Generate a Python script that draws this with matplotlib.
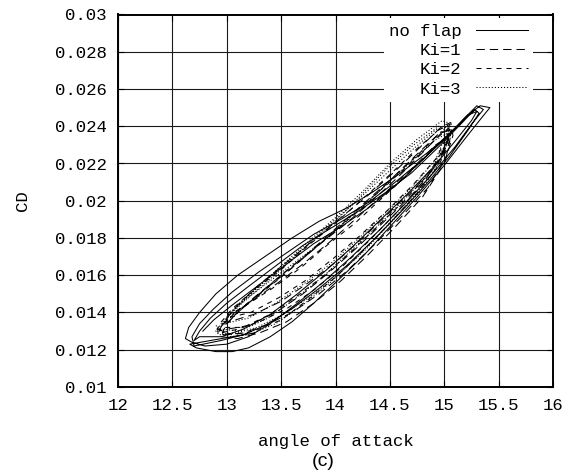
import matplotlib
matplotlib.use("Agg")
import matplotlib.pyplot as plt
from matplotlib.ticker import FixedLocator, FixedFormatter

# ---- data: CD vs angle of attack over several pitching cycles ----
# no flap (four cycles)
noflap_alpha = [
    [13.25, 13.05, 12.66,
     12.72, 12.90, 13.05, 13.20, 13.40, 13.60, 13.80, 14.00, 14.25, 14.50, 14.75, 15.00, 15.20, 15.35, 15.42,
     15.33, 15.22, 15.05, 14.85, 14.60, 14.35, 14.10, 13.85, 13.60, 13.35, 13.10, 12.90, 12.75, 12.65, 12.62],
    [12.68, 12.80, 13.00, 13.20, 13.40, 13.65, 13.90, 14.15, 14.40, 14.65, 14.90, 15.10, 15.25, 15.36,
     15.30, 15.18, 15.00, 14.80, 14.55, 14.30, 14.05, 13.80, 13.55, 13.30, 13.05, 12.88, 12.75, 12.68],
    [12.70, 12.95, 13.15, 13.35, 13.60, 13.85, 14.10, 14.35, 14.60, 14.85, 15.05, 15.22, 15.32,
     15.28, 15.15, 14.95, 14.70, 14.45, 14.20, 13.95, 13.70, 13.45, 13.20, 13.00, 12.85, 12.75, 12.70],
    [12.75, 12.95, 13.15, 13.40, 13.65, 13.90, 14.15, 14.40, 14.65, 14.90, 15.10, 15.25, 15.30,
     15.22, 15.05, 14.80, 14.55, 14.30, 14.05, 13.80, 13.55, 13.30, 13.05, 12.88, 12.78],
]
noflap_cd = [
    [0.0129, 0.0127, 0.0123,
     0.0121, 0.0119, 0.0119, 0.0121, 0.0127, 0.0135, 0.0145, 0.0156, 0.0170, 0.0186, 0.0202, 0.0219, 0.0234, 0.0245, 0.0250,
     0.0251, 0.0246, 0.0236, 0.0226, 0.0215, 0.0205, 0.0196, 0.0189, 0.0180, 0.0170, 0.0160, 0.0150, 0.0140, 0.0132, 0.0126],
    [0.0124, 0.0122, 0.0123, 0.0127, 0.0134, 0.0145, 0.0157, 0.0170, 0.0184, 0.0199, 0.0215, 0.0229, 0.0241, 0.0249,
     0.0251, 0.0244, 0.0233, 0.0222, 0.0210, 0.0199, 0.0190, 0.0182, 0.0172, 0.0162, 0.0151, 0.0142, 0.0134, 0.0127],
    [0.0122, 0.0125, 0.0128, 0.0133, 0.0142, 0.0153, 0.0165, 0.0179, 0.0194, 0.0210, 0.0224, 0.0238, 0.0247,
     0.0249, 0.0241, 0.0229, 0.0215, 0.0204, 0.0194, 0.0185, 0.0176, 0.0165, 0.0154, 0.0145, 0.0137, 0.0130, 0.0125],
    [0.0127, 0.0127, 0.0131, 0.0139, 0.0150, 0.0162, 0.0175, 0.0189, 0.0203, 0.0218, 0.0232, 0.0243, 0.0248,
     0.0246, 0.0236, 0.0222, 0.0208, 0.0196, 0.0186, 0.0177, 0.0166, 0.0155, 0.0144, 0.0136, 0.0130],
]

# Ki = 1
ki1_alpha = [
    [12.95, 13.10, 13.30, 13.55, 13.80, 14.05, 14.30, 14.55, 14.80, 15.00, 15.08, 15.06,
     14.98, 14.80, 14.55, 14.30, 14.05, 13.80, 13.55, 13.30, 13.10, 12.97, 12.93],
    [12.97, 13.15, 13.35, 13.60, 13.85, 14.10, 14.35, 14.60, 14.85, 15.02, 15.07,
     15.00, 14.82, 14.58, 14.32, 14.08, 13.82, 13.58, 13.32, 13.12, 13.00, 12.96],
    [13.00, 13.20, 13.45, 13.70, 13.95, 14.20, 14.45, 14.70, 14.90, 15.03, 15.05,
     14.95, 14.75, 14.50, 14.25, 14.00, 13.75, 13.50, 13.25, 13.08, 13.00],
    [13.02, 13.25, 13.50, 13.75, 14.00, 14.25, 14.50, 14.75, 14.95, 15.04,
     14.92, 14.70, 14.45, 14.20, 13.95, 13.70, 13.45, 13.20, 13.05],
]
ki1_cd = [
    [0.0127, 0.0126, 0.0129, 0.0135, 0.0145, 0.0157, 0.0171, 0.0186, 0.0202, 0.0220, 0.0235, 0.0242,
     0.0240, 0.0230, 0.0216, 0.0203, 0.0191, 0.0179, 0.0167, 0.0155, 0.0144, 0.0135, 0.0130],
    [0.0128, 0.0129, 0.0133, 0.0140, 0.0150, 0.0162, 0.0176, 0.0191, 0.0207, 0.0224, 0.0238,
     0.0238, 0.0227, 0.0213, 0.0199, 0.0187, 0.0175, 0.0163, 0.0151, 0.0141, 0.0134, 0.0129],
    [0.0131, 0.0133, 0.0140, 0.0150, 0.0162, 0.0175, 0.0189, 0.0203, 0.0217, 0.0230, 0.0238,
     0.0236, 0.0225, 0.0211, 0.0198, 0.0185, 0.0172, 0.0160, 0.0148, 0.0139, 0.0134],
    [0.0135, 0.0139, 0.0146, 0.0156, 0.0167, 0.0180, 0.0194, 0.0208, 0.0222, 0.0234,
     0.0230, 0.0217, 0.0204, 0.0191, 0.0178, 0.0166, 0.0155, 0.0145, 0.0139],
]

# Ki = 2
ki2_alpha = [
    [12.92, 13.05, 13.25, 13.50, 13.75, 14.00, 14.25, 14.50, 14.75, 14.95, 15.06, 15.05,
     14.95, 14.75, 14.50, 14.25, 14.00, 13.75, 13.50, 13.25, 13.05, 12.95, 12.91],
    [12.94, 13.10, 13.30, 13.55, 13.80, 14.05, 14.30, 14.55, 14.80, 14.98, 15.06,
     14.97, 14.78, 14.52, 14.28, 14.02, 13.78, 13.52, 13.28, 13.08, 12.97, 12.93],
    [12.98, 13.15, 13.40, 13.65, 13.90, 14.15, 14.40, 14.65, 14.88, 15.02, 15.04,
     14.94, 14.72, 14.48, 14.22, 13.98, 13.72, 13.48, 13.22, 13.06, 12.99],
    [13.00, 13.22, 13.48, 13.72, 13.98, 14.22, 14.48, 14.72, 14.93, 15.03,
     14.90, 14.68, 14.42, 14.18, 13.92, 13.68, 13.42, 13.18, 13.03],
]
ki2_cd = [
    [0.0131, 0.0128, 0.0130, 0.0136, 0.0147, 0.0159, 0.0173, 0.0188, 0.0204, 0.0219, 0.0233, 0.0241,
     0.0238, 0.0228, 0.0214, 0.0201, 0.0188, 0.0176, 0.0163, 0.0152, 0.0142, 0.0135, 0.0131],
    [0.0129, 0.0131, 0.0135, 0.0142, 0.0152, 0.0164, 0.0178, 0.0193, 0.0209, 0.0224, 0.0237,
     0.0237, 0.0226, 0.0212, 0.0198, 0.0185, 0.0173, 0.0161, 0.0149, 0.0140, 0.0134, 0.0130],
    [0.0132, 0.0132, 0.0139, 0.0149, 0.0160, 0.0173, 0.0187, 0.0201, 0.0216, 0.0231, 0.0239,
     0.0234, 0.0222, 0.0209, 0.0196, 0.0183, 0.0170, 0.0158, 0.0146, 0.0138, 0.0133],
    [0.0137, 0.0140, 0.0148, 0.0157, 0.0169, 0.0181, 0.0195, 0.0209, 0.0223, 0.0235,
     0.0228, 0.0215, 0.0201, 0.0188, 0.0176, 0.0164, 0.0153, 0.0144, 0.0139],
]

# Ki = 3
ki3_alpha = [
    [12.90, 13.02, 13.20, 13.45, 13.70, 13.95, 14.20, 14.45, 14.70, 14.92, 15.04, 15.03,
     14.98, 14.75, 14.50, 14.25, 14.00, 13.75, 13.50, 13.25, 13.05, 12.95, 12.90],
    [12.93, 13.08, 13.28, 13.52, 13.78, 14.02, 14.28, 14.52, 14.78, 14.96, 15.05,
     14.95, 14.72, 14.47, 14.22, 13.98, 13.72, 13.48, 13.22, 13.03, 12.94, 12.91],
    [12.96, 13.12, 13.38, 13.62, 13.88, 14.12, 14.38, 14.62, 14.85, 15.00, 15.05,
     14.92, 14.68, 14.42, 14.18, 13.92, 13.68, 13.42, 13.18, 13.03, 12.96],
    [12.98, 13.20, 13.45, 13.70, 13.95, 14.20, 14.45, 14.70, 14.92, 15.02,
     14.90, 14.66, 14.40, 14.15, 13.90, 13.65, 13.40, 13.15, 13.00],
]
ki3_cd = [
    [0.0133, 0.0127, 0.0128, 0.0134, 0.0144, 0.0156, 0.0170, 0.0185, 0.0201, 0.0217, 0.0232, 0.0242,
     0.0243, 0.0233, 0.0220, 0.0205, 0.0191, 0.0178, 0.0165, 0.0152, 0.0141, 0.0134, 0.0130],
    [0.0128, 0.0129, 0.0132, 0.0139, 0.0149, 0.0160, 0.0174, 0.0189, 0.0205, 0.0221, 0.0236,
     0.0240, 0.0230, 0.0217, 0.0202, 0.0188, 0.0175, 0.0162, 0.0149, 0.0139, 0.0132, 0.0129],
    [0.0131, 0.0130, 0.0137, 0.0147, 0.0159, 0.0172, 0.0186, 0.0200, 0.0214, 0.0229, 0.0240,
     0.0238, 0.0226, 0.0212, 0.0199, 0.0186, 0.0173, 0.0160, 0.0148, 0.0139, 0.0133],
    [0.0134, 0.0137, 0.0145, 0.0155, 0.0166, 0.0179, 0.0193, 0.0207, 0.0222, 0.0236,
     0.0232, 0.0219, 0.0205, 0.0192, 0.0179, 0.0168, 0.0157, 0.0146, 0.0138],
]

x_ticks = [12, 12.5, 13, 13.5, 14, 14.5, 15, 15.5, 16]
x_tick_labels = ["12", "12.5", "13", "13.5", "14", "14.5", "15", "15.5", "16"]
y_ticks = [0.01, 0.012, 0.014, 0.016, 0.018, 0.02, 0.022, 0.024, 0.026, 0.028, 0.03]
y_tick_labels = ["0.01", "0.012", "0.014", "0.016", "0.018", "0.02",
                 "0.022", "0.024", "0.026", "0.028", "0.03"]

series = [
    ("no flap", noflap_alpha, noflap_cd, "-"),
    ("Ki=1", ki1_alpha, ki1_cd, (0, (6.0, 3.6))),
    ("Ki=2", ki2_alpha, ki2_cd, (0, (3.6, 3.6))),
    ("Ki=3", ki3_alpha, ki3_cd, (0, (0.8, 1.4))),
]

# ---- figure ----
plt.rcParams["lines.scale_dashes"] = False
mono = "Liberation Mono"
fs = 12.5

fig = plt.figure(figsize=(5.86, 4.74), dpi=100)
ax = fig.add_axes([118 / 586, 1 - 387 / 474, 435 / 586, 372.5 / 474])

for label, alphas, cds, ls in series:
    xs, ys = [], []
    for a, c in zip(alphas, cds):
        xs += a
        ys += c
    ax.plot(xs, ys, color="black", lw=0.75, ls=ls, label=label, zorder=3)

ax.set_xlim(12, 16)
ax.set_ylim(0.01, 0.03)
ax.xaxis.set_major_locator(FixedLocator(x_ticks))
ax.xaxis.set_major_formatter(FixedFormatter(x_tick_labels))
ax.yaxis.set_major_locator(FixedLocator(y_ticks))
ax.yaxis.set_major_formatter(FixedFormatter(y_tick_labels))

ax.grid(True, color="#1a1a1a", lw=0.8, zorder=1)
ax.set_axisbelow(True)
ax.tick_params(direction="in", length=4.5, width=0.8, top=True, right=True,
               labelsize=fs, pad=8, color="black")
for lab in ax.get_xticklabels() + ax.get_yticklabels():
    lab.set_fontfamily(mono)
for sp in ax.spines.values():
    sp.set_linewidth(1.4)

ax.set_xlabel("angle of attack", fontfamily=mono, fontsize=fs, labelpad=15)
ax.set_ylabel("CD", fontfamily=mono, fontsize=fs, labelpad=18)

leg = ax.legend(loc="upper right", bbox_to_anchor=(0.955, 0.99), markerfirst=False,
                frameon=True, fancybox=False, borderaxespad=0, borderpad=0.3,
                handlelength=3.0, handletextpad=0.85, labelspacing=0.24,
                prop={"family": mono, "size": fs})
leg.get_frame().set_facecolor("white")
leg.get_frame().set_edgecolor("none")
leg.get_frame().set_alpha(1)
leg.set_zorder(5)

fig.text(323 / 586, 1 - 462 / 474, "(c)", ha="center", va="center",
         fontfamily="Liberation Sans", fontsize=14)

fig.savefig("out.png", dpi=100)
